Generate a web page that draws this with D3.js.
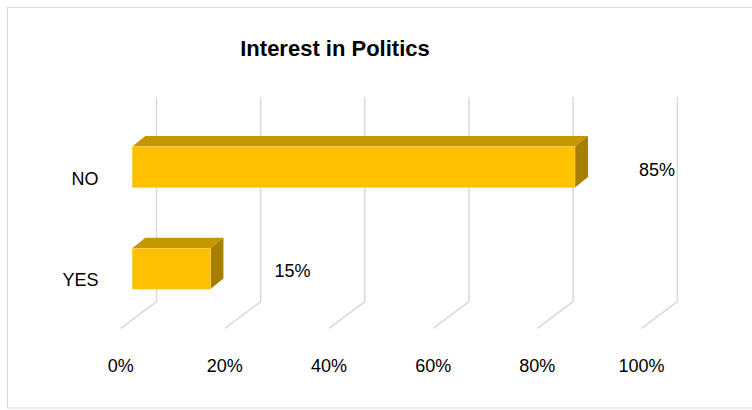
<!DOCTYPE html>
<html>
<head>
<meta charset="utf-8">
<script src="https://cdn.jsdelivr.net/npm/d3@7"></script>
<style>
  html, body { margin: 0; padding: 0; background: #ffffff; }
  svg { display: block; }
  text { font-family: "Liberation Sans", Arial, sans-serif; fill: #000; }
</style>
</head>
<body>
<svg id="chart" width="752" height="410"></svg>
<script>
// ---- data ----
const title = "Interest in Politics";
const categories = ["NO", "YES"];
const values = [0.85, 0.15];
const valueLabels = ["85%", "15%"];
const tickValues = [0, 0.2, 0.4, 0.6, 0.8, 1.0];
const tickLabels = ["0%", "20%", "40%", "60%", "80%", "100%"];

// ---- layout ----
const svg = d3.select("#chart");

// chart frame
svg.append("rect")
  .attr("x", 7.5).attr("y", 7.5)
  .attr("width", 760).attr("height", 400.5)
  .attr("fill", "#fff").attr("stroke", "#d9d9d9").attr("stroke-width", 1);

// 3D projection parameters
const depth = { dx: -35.8, dy: 26.7 };     // back wall -> front floor edge
const barDepth = { dx: 13, dy: -10.5 };    // bar front face -> bar back face
const barFrontShift = -24.2;               // back-wall x -> bar front face x

const xBack = d3.scaleLinear().domain([0, 1]).range([156.5, 677.3]);
const xFront = v => xBack(v) + depth.dx;
const xBar = v => xBack(v) + barFrontShift;

const yC = d3.scalePoint().domain(categories).range([167, 268.7]);
const barH = 40.8;

const wallTop = 97, wallBottom = 301.7;

// gridlines (back wall + floor)
const grid = svg.append("g").attr("class", "grid");
tickValues.forEach(t => {
  const xb = xBack(t);
  grid.append("path")
    .attr("d", `M${xb},${wallTop} L${xb},${wallBottom} L${xb + depth.dx},${wallBottom + depth.dy}`)
    .attr("fill", "none")
    .attr("stroke", "#d9d9d9")
    .attr("stroke-width", 1.5);
});

// bars
const bars = svg.append("g").attr("class", "bars");
categories.forEach((c, i) => {
  const v = values[i];
  const x0 = xBar(0), x1 = xBar(v);
  const yt = yC(c) - barH / 2, yb = yC(c) + barH / 2;
  const g = bars.append("g");
  g.append("path")
    .attr("d", `M${x0},${yt} L${x0 + barDepth.dx},${yt + barDepth.dy} L${x1 + barDepth.dx},${yt + barDepth.dy} L${x1},${yt} Z`)
    .attr("fill", "#c49700");
  g.append("path")
    .attr("d", `M${x1},${yt} L${x1 + barDepth.dx},${yt + barDepth.dy} L${x1 + barDepth.dx},${yb + barDepth.dy} L${x1},${yb} Z`)
    .attr("fill", "#a67e00");
  g.append("rect")
    .attr("x", x0).attr("y", yt)
    .attr("width", x1 - x0).attr("height", barH)
    .attr("fill", "#ffc000")
    .attr("stroke", "#ffd24d").attr("stroke-width", 0.6);
});

// value labels
svg.append("g").selectAll("text")
  .data(categories)
  .join("text")
  .attr("x", (c, i) => xBar(values[i]) + 82)
  .attr("y", c => yC(c) + 8.5)
  .attr("text-anchor", "middle")
  .style("font-size", "18px")
  .text((c, i) => valueLabels[i]);

// category labels
svg.append("g").selectAll("text")
  .data(categories)
  .join("text")
  .attr("x", 98.5)
  .attr("y", c => yC(c) + 17.5)
  .attr("text-anchor", "end")
  .style("font-size", "18px")
  .text(c => c);

// value axis labels
svg.append("g").selectAll("text")
  .data(tickValues)
  .join("text")
  .attr("x", t => xFront(t))
  .attr("y", 372)
  .attr("text-anchor", "middle")
  .style("font-size", "18px")
  .text((t, i) => tickLabels[i]);

// title
svg.append("text")
  .attr("x", 335)
  .attr("y", 56)
  .attr("text-anchor", "middle")
  .style("font-size", "22px")
  .style("font-weight", "bold")
  .text(title);
</script>
</body>
</html>
